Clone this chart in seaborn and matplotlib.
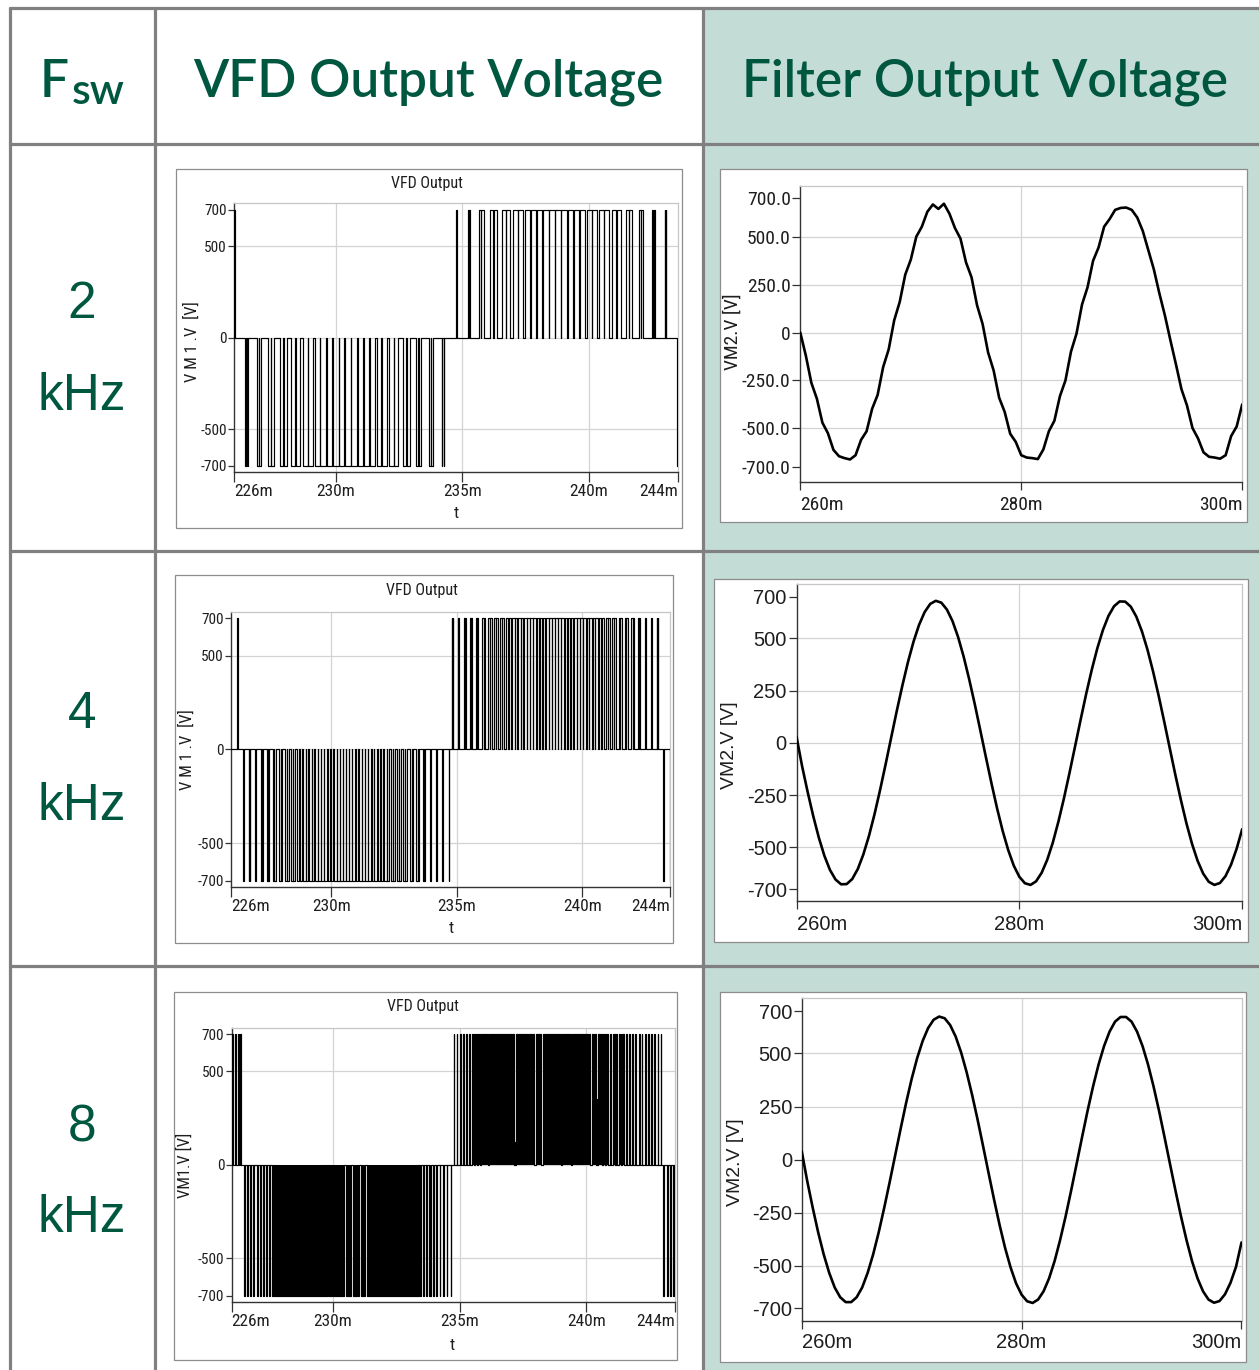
import numpy as np
import pandas as pd
import seaborn as sns
import matplotlib.pyplot as plt
from matplotlib import font_manager
from matplotlib.font_manager import FontProperties
from matplotlib.patches import Rectangle
from matplotlib.lines import Line2D

# ---------------- values ----------------
fsw_values = ["2", "4", "8"]
header_texts = ["VFD Output Voltage", "Filter Output Voltage"]

vfd_xticks = [226, 230, 235, 240, 243.5]
vfd_xticklabels = ["226m", "230m", "235m", "240m", "244m"]
vfd_yticks = [700, 500, 0, -500, -700]
vfd_yticklabels = ["700", "500", "0", "-500", "-700"]
vfd_xgrid = [230, 235, 240]
vfd_ygrid = [500, 0, -500]

filt_xticks = [260, 280, 300]
filt_xticklabels = ["260m", "280m", "300m"]
filt_yticks = [700, 500, 250, 0, -250, -500, -700]
filt_yticklabels_2k = ["700.0", "500.0", "250.0", "0", "-250.0", "-500.0", "-700.0"]
filt_yticklabels = ["700", "500", "250", "0", "-250", "-500", "-700"]
filt_xgrid = [280]
filt_ygrid = [500, 250, 0, -250, -500]

# 2 kHz VFD output: pulse pairs around each carrier peak (ms)
neg2_peak = [226.48, 226.97, 227.45, 227.94, 228.42, 228.91, 229.39, 229.88, 230.36,
             230.85, 231.33, 231.82, 232.30, 232.79, 233.27, 233.76, 234.24]
neg2_d = [0.035, 0.036, 0.057, 0.076, 0.093, 0.107, 0.117, 0.123, 0.125,
          0.123, 0.117, 0.107, 0.093, 0.076, 0.057, 0.036, 0.035]
neg2_w = [0.024, 0.064, 0.102, 0.137, 0.167, 0.192, 0.210, 0.221, 0.225,
          0.221, 0.210, 0.192, 0.167, 0.137, 0.102, 0.064, 0.024]
pos2_peak = [234.78, 235.265, 235.75, 236.235, 236.72, 237.205, 237.69, 238.175, 238.66,
             239.145, 239.63, 240.115, 240.60, 241.085, 241.57, 242.055, 242.54, 243.025]
pos2_d = [0.005, 0.035, 0.047, 0.067, 0.085, 0.100, 0.112, 0.120, 0.1245,
          0.1245, 0.120, 0.112, 0.100, 0.085, 0.067, 0.047, 0.035, 0.02]
pos2_w = [0.015, 0.044, 0.084, 0.120, 0.153, 0.180, 0.202, 0.216, 0.224,
          0.224, 0.216, 0.202, 0.180, 0.153, 0.120, 0.084, 0.044, 0.02]
pos2_single = [226.00]
pos2_single_w = [0.06]
neg2_single = [243.52]
neg2_single_w = [0.08]

# 4 kHz VFD output
neg4_peak = [226.49, 226.74, 226.99, 227.24, 227.48, 227.73, 227.98, 228.23, 228.48, 228.73,
             228.98, 229.22, 229.47, 229.72, 229.97, 230.22, 230.47, 230.71, 230.96, 231.21,
             231.46, 231.71, 231.96, 232.21, 232.45, 232.70, 232.95, 233.20, 233.45, 233.70,
             233.95, 234.19, 234.44, 234.69]
pos4_peak = [234.83, 235.08, 235.33, 235.57, 235.82, 236.07, 236.32, 236.56, 236.81, 237.06,
             237.31, 237.55, 237.80, 238.05, 238.30, 238.54, 238.79, 239.04, 239.29, 239.53,
             239.78, 240.03, 240.28, 240.52, 240.77, 241.02, 241.27, 241.52, 241.76, 242.01,
             242.26, 242.51, 242.75, 243.00]
d4 = [0.012, 0.012, 0.013, 0.019, 0.024, 0.030, 0.035, 0.039, 0.044, 0.048,
      0.051, 0.054, 0.057, 0.059, 0.061, 0.062, 0.062, 0.062, 0.062, 0.061,
      0.059, 0.057, 0.054, 0.051, 0.048, 0.044, 0.039, 0.035, 0.030, 0.024,
      0.019, 0.013, 0.012, 0.012]
w4 = [0.010, 0.013, 0.024, 0.034, 0.044, 0.053, 0.062, 0.071, 0.079, 0.086,
      0.092, 0.098, 0.103, 0.107, 0.109, 0.111, 0.112, 0.112, 0.111, 0.109,
      0.107, 0.103, 0.098, 0.092, 0.086, 0.079, 0.071, 0.062, 0.053, 0.044,
      0.034, 0.024, 0.013, 0.010]
pos4_single = [226.25]
pos4_single_w = [0.03]
neg4_single = [243.25, 243.52]
neg4_single_w = [0.03, 0.06]

# 8 kHz VFD output: isolated pulses and dense blocks
neg8_mid = [226.50, 226.62, 226.75, 226.87, 227.00, 227.12, 227.25, 227.37, 227.50, 227.62,
            233.44, 233.57, 233.70, 233.83, 233.96, 234.09, 234.22, 234.36, 234.49, 234.66,
            243.06, 243.19, 243.31, 243.44]
neg8_w = [0.02, 0.02, 0.03, 0.03, 0.04, 0.04, 0.05, 0.05, 0.06, 0.07,
          0.07, 0.06, 0.05, 0.05, 0.04, 0.04, 0.03, 0.03, 0.02, 0.02,
          0.03, 0.04, 0.05, 0.06]
neg8_block_start = [227.69, 229.82, 230.50, 230.79, 231.11, 231.34]
neg8_block_end = [229.75, 230.43, 230.72, 231.04, 231.27, 233.35]
pos8_mid = [226.04, 226.16, 226.27, 226.35,
            234.78, 234.90, 235.03, 235.15, 235.28, 235.40, 235.53, 235.65, 235.77,
            240.70, 240.83, 240.95, 241.08, 241.20, 241.33, 241.45, 241.58, 241.70, 241.83,
            241.95, 242.08, 242.20, 242.33, 242.45, 242.58, 242.70, 242.83, 242.95]
pos8_w = [0.03, 0.03, 0.03, 0.02,
          0.02, 0.02, 0.03, 0.03, 0.04, 0.05, 0.05, 0.06, 0.07,
          0.08, 0.08, 0.07, 0.07, 0.06, 0.06, 0.05, 0.05, 0.05, 0.04,
          0.04, 0.04, 0.03, 0.03, 0.03, 0.03, 0.02, 0.02, 0.02]
pos8_block_start = [235.84, 236.17, 237.21, 238.00, 238.27, 239.05, 239.45, 240.23, 240.45]
pos8_block_end = [236.10, 237.15, 237.93, 238.20, 238.98, 239.38, 240.16, 240.39, 240.62]
pos8_dip_t = [237.18, 240.42]
pos8_dip_v = [120, 350]

# filter output (LC filtered, sampled every 0.5 ms)
filt_t = [260.0, 260.5, 261.0, 261.5, 262.0, 262.5, 263.0, 263.5, 264.0, 264.5,
          265.0, 265.5, 266.0, 266.5, 267.0, 267.5, 268.0, 268.5, 269.0, 269.5,
          270.0, 270.5, 271.0, 271.5, 272.0, 272.5, 273.0, 273.5, 274.0, 274.5,
          275.0, 275.5, 276.0, 276.5, 277.0, 277.5, 278.0, 278.5, 279.0, 279.5,
          280.0, 280.5, 281.0, 281.5, 282.0, 282.5, 283.0, 283.5, 284.0, 284.5,
          285.0, 285.5, 286.0, 286.5, 287.0, 287.5, 288.0, 288.5, 289.0, 289.5,
          290.0, 290.5, 291.0, 291.5, 292.0, 292.5, 293.0, 293.5, 294.0, 294.5,
          295.0, 295.5, 296.0, 296.5, 297.0, 297.5, 298.0, 298.5, 299.0, 299.5,
          300.0]
filt_v_2k = [0, -120, -262, -345, -470, -525, -612, -645, -655, -662,
             -640, -560, -515, -398, -325, -180, -88, 64, 160, 302,
             380, 500, 552, 630, 668, 645, 672, 620, 545, 490,
             366, 288, 142, 45, -104, -198, -340, -414, -528, -570,
             -640, -652, -655, -660, -610, -515, -460, -332, -250, -100,
             -6, 146, 236, 374, 444, 552, 592, 640, 650, 652,
             640, 600, 530, 430, 330, 205, 90, -40, -165, -295,
             -380, -498, -552, -625, -648, -652, -658, -640, -540, -490,
             -375]
filt_v_4k = [30, -111, -235, -350, -453, -540, -608, -654, -677, -676,
             -652, -604, -534, -446, -342, -226, -102, 26, 153, 274,
             386, 484, 565, 626, 665, 680, 671, 638, 583, 507,
             413, 304, 185, 59, -69, -194, -313, -421, -513, -588,
             -641, -672, -680, -663, -622, -560, -478, -378, -266, -144,
             -17, 111, 235, 350, 453, 540, 608, 654, 677, 676,
             652, 604, 534, 446, 342, 226, 102, -26, -153, -274,
             -386, -484, -565, -626, -665, -680, -671, -638, -583, -507,
             -413]
filt_v_8k = [40, -100, -226, -343, -446, -533, -602, -648, -671, -671,
             -648, -602, -533, -446, -343, -228, -106, 20, 146, 268,
             380, 478, 559, 620, 659, 674, 666, 634, 580, 505,
             412, 305, 188, 63, -64, -189, -308, -416, -508, -583,
             -636, -667, -675, -659, -620, -559, -478, -379, -268, -147,
             -21, 106, 230, 345, 448, 535, 603, 650, 672, 672,
             650, 603, 535, 448, 345, 230, 106, -21, -147, -268,
             -379, -478, -559, -620, -659, -674, -666, -634, -580, -505,
             -390]

# ---------------- styling ----------------
sns.set_style("white")


def have(name):
    try:
        font_manager.findfont(FontProperties(family=name), fallback_to_default=False)
        return True
    except ValueError:
        return False


NARROW = next((f for f in ["Liberation Sans Narrow", "Roboto Condensed"] if have(f)), "DejaVu Sans")
plt.rcParams["font.family"] = ["Liberation Sans", "DejaVu Sans"]

TEAL = "#c3dcd6"
GREEN = "#00573f"
TABLE = "#808080"
FRAME = "#8c8c8c"
GRID = "#d3d3d3"
INK = "#1e1e1e"

W, H = 1259, 1370
fig = plt.figure(figsize=(W / 100, H / 100), dpi=100)


def nar(size):
    return FontProperties(family=NARROW, stretch="condensed", size=size)


def reg(size):
    return FontProperties(family="Liberation Sans", size=size)


def fbox(l, t, r, b):
    return [l / W, 1 - b / H, (r - l) / W, (b - t) / H]


def rect(l, t, r, b, face, edge="none", lw=0, z=-1):
    fig.add_artist(Rectangle((l / W, 1 - b / H), (r - l) / W, (b - t) / H,
                             transform=fig.transFigure, facecolor=face,
                             edgecolor=edge, linewidth=lw, zorder=z))


def hline(y, x0, x1):
    fig.add_artist(Line2D([x0 / W, x1 / W], [1 - y / H, 1 - y / H], color=TABLE,
                          linewidth=2.3, transform=fig.transFigure, zorder=10))


def vline(x, y0, y1):
    fig.add_artist(Line2D([x / W, x / W], [1 - y0 / H, 1 - y1 / H], color=TABLE,
                          linewidth=2.3, transform=fig.transFigure, zorder=10))


def text(x, y, s, fp, **kw):
    fig.text(x / W, 1 - y / H, s, fontproperties=fp, **kw)


def pairs(peak, d, w, level):
    segs = []
    for p, dd, ww in zip(peak, d, w):
        for c in (p - dd, p + dd):
            segs.append((c - ww / 2, c + ww / 2, level))
    return segs


def singles(mid, w, level):
    return [(m - ww / 2, m + ww / 2, level) for m, ww in zip(mid, w)]


def blocks(start, end, level):
    return [(s, e, level) for s, e in zip(start, end)]


def step_trace(segs, t0=225.8, t1=244.2):
    merged = []
    for s, e, lv in sorted(segs):
        if merged and s <= merged[-1][1] and lv == merged[-1][2]:
            merged[-1][1] = max(merged[-1][1], e)
        else:
            merged.append([s, e, lv])
    t, v = [t0], [0.0]
    for s, e, lv in merged:
        t += [s, s, e, e]
        v += [0, lv, lv, 0]
    t.append(t1)
    v.append(0)
    return pd.DataFrame({"t": t, "v": v})


def style(ax, xlim, ylim, xt, xl, yt, yl, xg, yg, fx, fy, xlen, ylen, xpad, ypad):
    ax.set_xlim(*xlim)
    ax.set_ylim(*ylim)
    for g in xg:
        ax.axvline(g, color=GRID, linewidth=0.9, zorder=0)
    for g in yg:
        ax.axhline(g, color=GRID, linewidth=0.9, zorder=0)
    ax.set_xticks(xt)
    ax.set_xticklabels(xl)
    ax.set_yticks(yt)
    ax.set_yticklabels(yl)
    xlabs = ax.get_xticklabels()
    for lab in xlabs:
        lab.set_fontproperties(fx)
    xlabs[0].set_ha("left")
    xlabs[-1].set_ha("right")
    for lab in ax.get_yticklabels():
        lab.set_fontproperties(fy)
    ax.set_xlabel("")
    ax.set_ylabel("")
    ax.tick_params(axis="x", direction="out", length=xlen, width=0.9, color="#333333",
                   labelcolor=INK, pad=xpad, bottom=True)
    ax.tick_params(axis="y", direction="out", length=ylen, width=0.9, color="#333333",
                   labelcolor=INK, pad=ypad, left=True)
    for side in ["left", "bottom"]:
        ax.spines[side].set_color("#333333")
        ax.spines[side].set_linewidth(1.0)
    for side in ["top", "right"]:
        ax.spines[side].set_color("#c6c6c6")
        ax.spines[side].set_linewidth(0.9)


# ---------------- table ----------------
rect(703, 7.5, 1259, 1370, TEAL, z=-2)

hdr = FontProperties(family="Lato", size=37, weight="semibold")
sub = FontProperties(family="Lato", size=31, weight="semibold")
text(40, 97, "F", hdr, ha="left", va="baseline", color=GREEN)
text(72, 104, "sw", sub, ha="left", va="baseline", color=GREEN)
text(428, 97, header_texts[0], hdr, ha="center", va="baseline", color=GREEN)
text(985, 97, header_texts[1], hdr, ha="center", va="baseline", color=GREEN)

row_centers = [305, 715, 1128]
lab_font = FontProperties(family="Liberation Sans", size=37)
for val, yc in zip(fsw_values, row_centers):
    text(82, yc, val, lab_font, ha="center", va="center", color=GREEN)
    text(82, yc + 91, "kHz", lab_font, ha="center", va="center", color=GREEN)

# ---------------- VFD panels ----------------
vfd_rows = [
    dict(frame=(176, 169, 681.7, 528.3), ax=(234.3, 203.3, 677.7, 471.7),
         title=(426.7, 183.3), ylab=(191.7, 341.7), t=(456, 513.3), ytext="V M 1 .V  [V]",
         segs=pairs(neg2_peak, neg2_d, neg2_w, -700) + pairs(pos2_peak, pos2_d, pos2_w, 700)
         + singles(pos2_single, pos2_single_w, 700) + singles(neg2_single, neg2_single_w, -700),
         fill=False),
    dict(frame=(175, 575, 673.3, 943.3), ax=(231, 611.7, 670, 886.7),
         title=(422.3, 590), ylab=(186.7, 750), t=(451, 928.3), ytext="V M 1 .V  [V]",
         segs=pairs(neg4_peak, d4, w4, -700) + pairs(pos4_peak, d4, w4, 700)
         + singles(pos4_single, pos4_single_w, 700) + singles(neg4_single, neg4_single_w, -700),
         fill=False),
    dict(frame=(174, 991.7, 677.3, 1360), ax=(231.7, 1027.7, 675, 1301.7),
         title=(423.3, 1006.7), ylab=(185, 1165), t=(452.7, 1345), ytext="VM1.V [V]",
         segs=singles(neg8_mid, neg8_w, -700) + singles(pos8_mid, pos8_w, 700)
         + blocks(neg8_block_start, neg8_block_end, -700)
         + blocks(pos8_block_start, pos8_block_end, 700)
         + [(t - 0.01, t + 0.01, v) for t, v in zip(pos8_dip_t, pos8_dip_v)],
         fill=True),
]

for row in vfd_rows:
    rect(*row["frame"], "white", FRAME, 0.9, z=-1)
    ax = fig.add_axes(fbox(*row["ax"]))
    ax.set_facecolor("white")
    df = step_trace(row["segs"])
    if row["fill"]:
        ax.fill_between(df["t"], 0, df["v"], color="black", linewidth=0, zorder=2)
    sns.lineplot(data=df, x="t", y="v", sort=False, estimator=None, color="black",
                 linewidth=0.85, ax=ax, zorder=3, legend=False)
    style(ax, (226, 243.5), (-732, 734), vfd_xticks, vfd_xticklabels, vfd_yticks,
          vfd_yticklabels, vfd_xgrid, vfd_ygrid, nar(12.5), nar(11), 7, 4.3, 2, 1)
    text(*row["title"], "VFD Output", nar(11.5), ha="center", va="center", color=INK)
    text(*row["ylab"], row["ytext"], nar(12), ha="center", va="center", rotation=90, color=INK)
    text(*row["t"], "t", nar(12.5), ha="center", va="center", color=INK)

# ---------------- filter panels ----------------
filt_rows = [
    dict(frame=(719.8, 169, 1247.5, 521.7), ax=(800.3, 185.7, 1242.2, 481.7),
         ylim=(-778, 766), vals=filt_v_2k, ylabels=filt_yticklabels_2k,
         font=nar(14), yfont=nar(14), ylab=(733, 331.7), xpad=4.5),
    dict(frame=(714, 579, 1247.5, 941.7), ax=(796.5, 584.3, 1242.2, 901),
         ylim=(-757, 759), vals=filt_v_4k, ylabels=filt_yticklabels,
         font=reg(14.5), yfont=reg(14), ylab=(730, 745), xpad=4.3),
    dict(frame=(719.8, 992.3, 1246.4, 1361.7), ax=(801.7, 998.3, 1241.5, 1321),
         ylim=(-760, 760), vals=filt_v_8k, ylabels=filt_yticklabels,
         font=reg(14.5), yfont=reg(14), ylab=(736, 1161.7), xpad=3.2),
]

for row in filt_rows:
    rect(*row["frame"], "white", FRAME, 0.9, z=-1)
    ax = fig.add_axes(fbox(*row["ax"]))
    ax.set_facecolor("white")
    df = pd.DataFrame({"t": filt_t, "v": row["vals"]})
    sns.lineplot(data=df, x="t", y="v", sort=False, estimator=None, color="black",
                 linewidth=1.9, ax=ax, zorder=3, legend=False)
    style(ax, (260, 300), row["ylim"], filt_xticks, filt_xticklabels, filt_yticks,
          row["ylabels"], filt_xgrid, filt_ygrid, row["font"], row["font"], 5.8, 5.8,
          row["xpad"], 1.2)
    text(*row["ylab"], "VM2.V [V]", row["yfont"], ha="center", va="center",
         rotation=90, color=INK)

# ---------------- grid lines of the table ----------------
for x in [9.5, 154.5, 703]:
    vline(x, 7.5, 1370)
for y in [7.5, 143.5, 551, 965.5]:
    hline(y, 9.5, 1259)

fig.savefig("out.png", dpi=100, facecolor="white")
